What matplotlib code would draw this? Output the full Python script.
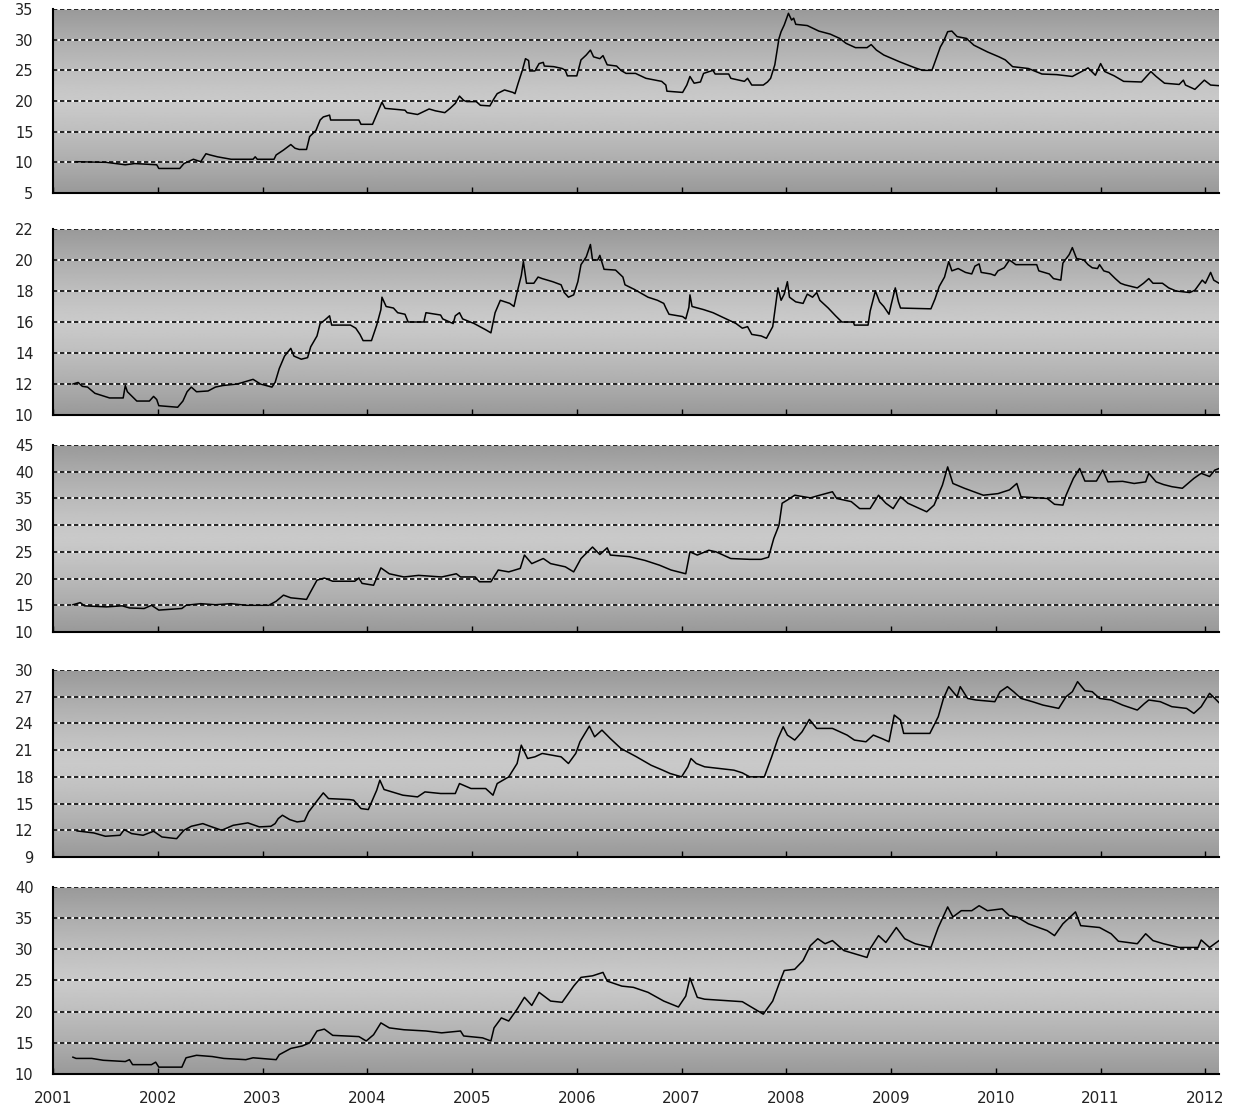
import matplotlib
matplotlib.use("Agg")
import matplotlib.pyplot as plt
import numpy as np

# series 1
S1_T = [2001.22, 2001.51, 2001.69, 2001.78, 2001.99, 2002.01, 2002.21, 2002.25, 2002.34, 2002.41,
        2002.46, 2002.50, 2002.57, 2002.70, 2002.91, 2002.93, 2002.95, 2003.11, 2003.13, 2003.20,
        2003.27, 2003.31, 2003.35, 2003.42, 2003.45, 2003.51, 2003.55, 2003.58, 2003.64, 2003.65,
        2003.92, 2003.94, 2004.05, 2004.10, 2004.14, 2004.17, 2004.36, 2004.38, 2004.48, 2004.54,
        2004.59, 2004.65, 2004.74, 2004.79, 2004.84, 2004.88, 2004.92, 2004.95, 2005.04, 2005.08,
        2005.17, 2005.21, 2005.24, 2005.31, 2005.39, 2005.41, 2005.44, 2005.48, 2005.51, 2005.54,
        2005.55, 2005.60, 2005.64, 2005.68, 2005.69, 2005.78, 2005.86, 2005.89, 2005.91, 2006.00,
        2006.04, 2006.09, 2006.13, 2006.16, 2006.22, 2006.25, 2006.29, 2006.38, 2006.42, 2006.47,
        2006.56, 2006.66, 2006.81, 2006.85, 2006.86, 2007.01, 2007.05, 2007.08, 2007.12, 2007.18,
        2007.21, 2007.30, 2007.32, 2007.45, 2007.47, 2007.60, 2007.63, 2007.67, 2007.78, 2007.82,
        2007.85, 2007.89, 2007.93, 2007.95, 2007.98, 2008.02, 2008.05, 2008.07, 2008.09, 2008.20,
        2008.31, 2008.42, 2008.51, 2008.57, 2008.66, 2008.77, 2008.81, 2008.86, 2008.93, 2009.04,
        2009.08, 2009.23, 2009.30, 2009.39, 2009.43, 2009.47, 2009.50, 2009.54, 2009.58, 2009.63,
        2009.72, 2009.79, 2009.92, 2010.03, 2010.09, 2010.16, 2010.31, 2010.44, 2010.58, 2010.73,
        2010.84, 2010.88, 2010.95, 2011.00, 2011.04, 2011.13, 2011.22, 2011.39, 2011.48, 2011.53,
        2011.61, 2011.75, 2011.79, 2011.81, 2011.90, 2011.99, 2012.05, 2012.13]
S1_V = [10.1, 10.0, 9.6, 9.8, 9.6, 9.0, 9.0, 9.8, 10.5, 10.1,
        11.4, 11.2, 10.9, 10.5, 10.5, 10.9, 10.5, 10.5, 11.2, 12.0,
        12.9, 12.3, 12.1, 12.1, 14.2, 15.2, 16.9, 17.4, 17.7, 16.9,
        16.9, 16.2, 16.2, 18.2, 19.8, 18.8, 18.5, 18.1, 17.8, 18.3,
        18.7, 18.4, 18.1, 18.8, 19.6, 20.8, 20.1, 19.9, 19.9, 19.3,
        19.2, 20.4, 21.2, 21.8, 21.4, 21.2, 22.9, 25.0, 26.9, 26.6,
        24.9, 24.9, 26.1, 26.3, 25.7, 25.6, 25.3, 25.0, 24.1, 24.1,
        26.7, 27.5, 28.3, 27.2, 26.9, 27.4, 25.9, 25.7, 25.0, 24.5,
        24.5, 23.7, 23.2, 22.6, 21.6, 21.4, 22.6, 24.0, 22.9, 23.1,
        24.5, 25.0, 24.4, 24.4, 23.7, 23.2, 23.7, 22.6, 22.6, 23.1,
        23.7, 25.9, 30.2, 31.3, 32.4, 34.3, 33.2, 33.5, 32.5, 32.3,
        31.4, 30.9, 30.2, 29.4, 28.7, 28.7, 29.2, 28.3, 27.5, 26.7,
        26.4, 25.4, 25.0, 25.0, 26.9, 28.8, 29.7, 31.3, 31.4, 30.5,
        30.2, 29.1, 28.0, 27.2, 26.7, 25.6, 25.3, 24.4, 24.3, 24.0,
        25.0, 25.4, 24.2, 26.1, 24.8, 24.1, 23.2, 23.1, 24.8, 24.0,
        22.9, 22.7, 23.4, 22.6, 21.9, 23.4, 22.6, 22.5]

# series 2
S2_T = [2001.19, 2001.24, 2001.28, 2001.33, 2001.40, 2001.54, 2001.67, 2001.69, 2001.71, 2001.74,
        2001.80, 2001.92, 2001.96, 2001.99, 2002.01, 2002.19, 2002.24, 2002.28, 2002.32, 2002.37,
        2002.48, 2002.55, 2002.62, 2002.76, 2002.91, 2002.98, 2003.09, 2003.12, 2003.16, 2003.21,
        2003.27, 2003.30, 2003.37, 2003.43, 2003.46, 2003.52, 2003.55, 2003.59, 2003.64, 2003.66,
        2003.84, 2003.89, 2003.93, 2003.96, 2004.04, 2004.09, 2004.13, 2004.14, 2004.18, 2004.25,
        2004.29, 2004.36, 2004.39, 2004.54, 2004.56, 2004.70, 2004.72, 2004.82, 2004.84, 2004.88,
        2004.91, 2005.02, 2005.13, 2005.18, 2005.22, 2005.27, 2005.36, 2005.40, 2005.43, 2005.47,
        2005.49, 2005.52, 2005.59, 2005.63, 2005.67, 2005.77, 2005.85, 2005.88, 2005.92, 2005.97,
        2006.01, 2006.04, 2006.09, 2006.13, 2006.15, 2006.20, 2006.22, 2006.26, 2006.37, 2006.44,
        2006.46, 2006.55, 2006.68, 2006.77, 2006.83, 2006.85, 2006.88, 2007.01, 2007.04, 2007.07,
        2007.08, 2007.10, 2007.21, 2007.30, 2007.41, 2007.52, 2007.58, 2007.63, 2007.67, 2007.76,
        2007.81, 2007.83, 2007.87, 2007.89, 2007.92, 2007.95, 2007.98, 2008.01, 2008.03, 2008.09,
        2008.16, 2008.20, 2008.25, 2008.29, 2008.32, 2008.40, 2008.47, 2008.53, 2008.64, 2008.65,
        2008.78, 2008.80, 2008.85, 2008.89, 2008.93, 2008.98, 2009.00, 2009.04, 2009.07, 2009.09,
        2009.38, 2009.42, 2009.46, 2009.51, 2009.55, 2009.58, 2009.64, 2009.71, 2009.77, 2009.80,
        2009.84, 2009.86, 2009.95, 2009.99, 2010.02, 2010.08, 2010.13, 2010.19, 2010.39, 2010.41,
        2010.51, 2010.55, 2010.62, 2010.64, 2010.70, 2010.73, 2010.77, 2010.84, 2010.88, 2010.92,
        2010.97, 2010.99, 2011.03, 2011.08, 2011.14, 2011.19, 2011.23, 2011.35, 2011.41, 2011.46,
        2011.50, 2011.59, 2011.65, 2011.72, 2011.85, 2011.90, 2011.97, 2012.00, 2012.05, 2012.08,
        2012.13]
S2_V = [12.0, 12.1, 11.85, 11.8, 11.4, 11.1, 11.1, 11.9, 11.5, 11.3,
        10.9, 10.9, 11.2, 11.0, 10.6, 10.5, 10.9, 11.5, 11.8, 11.5,
        11.55, 11.8, 11.9, 12.0, 12.3, 12.0, 11.8, 12.1, 13.0, 13.8,
        14.3, 13.8, 13.6, 13.7, 14.4, 15.1, 15.9, 16.1, 16.4, 15.8,
        15.8, 15.6, 15.2, 14.8, 14.8, 15.8, 16.8, 17.6, 17.0, 16.9,
        16.6, 16.5, 16.0, 16.0, 16.6, 16.45, 16.2, 15.9, 16.4, 16.6,
        16.2, 15.9, 15.5, 15.3, 16.6, 17.4, 17.2, 17.0, 17.9, 19.0,
        19.9, 18.5, 18.5, 18.9, 18.8, 18.6, 18.4, 17.9, 17.6, 17.75,
        18.6, 19.7, 20.2, 21.0, 20.0, 20.0, 20.3, 19.4, 19.35, 18.9,
        18.4, 18.1, 17.6, 17.4, 17.2, 16.9, 16.5, 16.35, 16.2, 16.95,
        17.75, 17.0, 16.8, 16.6, 16.25, 15.9, 15.6, 15.7, 15.2, 15.1,
        14.95, 15.2, 15.7, 16.7, 18.2, 17.4, 17.8, 18.6, 17.6, 17.3,
        17.2, 17.8, 17.6, 17.9, 17.4, 16.9, 16.4, 16.0, 16.0, 15.8,
        15.8, 16.7, 18.0, 17.3, 17.0, 16.5, 17.1, 18.2, 17.3, 16.9,
        16.85, 17.5, 18.3, 18.9, 19.9, 19.3, 19.45, 19.2, 19.1, 19.6,
        19.75, 19.2, 19.1, 19.0, 19.3, 19.5, 20.0, 19.7, 19.7, 19.3,
        19.1, 18.8, 18.7, 19.8, 20.35, 20.8, 20.1, 20.0, 19.7, 19.5,
        19.45, 19.7, 19.3, 19.2, 18.8, 18.5, 18.4, 18.2, 18.5, 18.8,
        18.5, 18.5, 18.2, 18.0, 17.9, 18.05, 18.7, 18.5, 19.2, 18.7,
        18.5]

# series 3
S3_T = [2001.19, 2001.26, 2001.30, 2001.51, 2001.66, 2001.73, 2001.87, 2001.94, 2002.01, 2002.23,
        2002.27, 2002.41, 2002.55, 2002.70, 2002.84, 2003.06, 2003.13, 2003.20, 2003.27, 2003.42,
        2003.45, 2003.52, 2003.59, 2003.67, 2003.88, 2003.92, 2003.95, 2004.06, 2004.13, 2004.21,
        2004.35, 2004.49, 2004.71, 2004.85, 2004.89, 2005.03, 2005.07, 2005.18, 2005.25, 2005.35,
        2005.46, 2005.50, 2005.57, 2005.68, 2005.75, 2005.89, 2005.97, 2006.04, 2006.15, 2006.22,
        2006.29, 2006.32, 2006.50, 2006.65, 2006.79, 2006.90, 2007.04, 2007.08, 2007.15, 2007.26,
        2007.33, 2007.47, 2007.65, 2007.76, 2007.83, 2007.88, 2007.93, 2007.96, 2008.01, 2008.08,
        2008.23, 2008.30, 2008.44, 2008.48, 2008.62, 2008.70, 2008.80, 2008.88, 2008.95, 2009.02,
        2009.09, 2009.16, 2009.34, 2009.41, 2009.49, 2009.54, 2009.59, 2009.70, 2009.88, 2010.02,
        2010.13, 2010.20, 2010.24, 2010.49, 2010.56, 2010.64, 2010.67, 2010.74, 2010.80, 2010.85,
        2010.96, 2011.02, 2011.07, 2011.21, 2011.32, 2011.43, 2011.46, 2011.53, 2011.60, 2011.68,
        2011.78, 2011.89, 2011.96, 2012.04, 2012.09, 2012.13]
S3_V = [15.1, 15.5, 14.9, 14.7, 14.9, 14.5, 14.4, 15.0, 14.1, 14.4,
        15.0, 15.3, 15.1, 15.3, 15.0, 15.0, 15.75, 16.9, 16.4, 16.1,
        17.2, 19.7, 20.1, 19.5, 19.5, 20.1, 19.1, 18.75, 22.0, 20.9,
        20.3, 20.6, 20.3, 20.9, 20.3, 20.3, 19.4, 19.4, 21.6, 21.25,
        21.9, 24.4, 22.8, 23.75, 22.8, 22.2, 21.25, 23.75, 25.9, 24.5,
        25.75, 24.4, 24.1, 23.4, 22.5, 21.6, 20.9, 25.0, 24.4, 25.3,
        25.0, 23.75, 23.6, 23.6, 24.0, 27.5, 30.0, 34.1, 34.7, 35.6,
        35.1, 35.5, 36.25, 35.0, 34.4, 33.1, 33.1, 35.6, 34.1, 33.1,
        35.3, 34.1, 32.5, 33.75, 37.5, 40.9, 37.8, 36.9, 35.6, 35.9,
        36.6, 37.8, 35.3, 35.0, 33.9, 33.75, 35.6, 38.75, 40.6, 38.25,
        38.25, 40.3, 38.1, 38.2, 37.8, 38.1, 39.7, 38.1, 37.6, 37.2,
        36.9, 38.75, 39.7, 39.1, 40.3, 40.6]

# series 4
S4_T = [2001.23, 2001.39, 2001.50, 2001.64, 2001.68, 2001.75, 2001.86, 2001.96, 2002.04, 2002.18,
        2002.25, 2002.32, 2002.43, 2002.50, 2002.61, 2002.72, 2002.86, 2002.97, 2003.08, 2003.12,
        2003.15, 2003.19, 2003.26, 2003.33, 2003.40, 2003.44, 2003.53, 2003.58, 2003.63, 2003.83,
        2003.87, 2003.94, 2004.01, 2004.09, 2004.12, 2004.16, 2004.34, 2004.48, 2004.55, 2004.70,
        2004.84, 2004.88, 2004.99, 2005.13, 2005.20, 2005.24, 2005.35, 2005.43, 2005.47, 2005.53,
        2005.60, 2005.67, 2005.85, 2005.92, 2005.99, 2006.03, 2006.12, 2006.17, 2006.24, 2006.32,
        2006.42, 2006.57, 2006.71, 2006.82, 2006.89, 2007.00, 2007.06, 2007.09, 2007.14, 2007.22,
        2007.50, 2007.58, 2007.65, 2007.79, 2007.86, 2007.92, 2007.97, 2008.01, 2008.08, 2008.15,
        2008.22, 2008.29, 2008.44, 2008.58, 2008.65, 2008.76, 2008.83, 2008.91, 2008.98, 2009.03,
        2009.09, 2009.12, 2009.37, 2009.45, 2009.50, 2009.55, 2009.63, 2009.66, 2009.73, 2009.81,
        2009.99, 2010.04, 2010.11, 2010.17, 2010.24, 2010.35, 2010.45, 2010.60, 2010.67, 2010.73,
        2010.78, 2010.85, 2010.92, 2010.99, 2011.10, 2011.21, 2011.35, 2011.42, 2011.46, 2011.57,
        2011.68, 2011.82, 2011.89, 2011.96, 2012.04, 2012.09, 2012.13]
S4_V = [11.93, 11.7, 11.33, 11.44, 12.08, 11.63, 11.44, 11.89, 11.25, 11.06,
        12.0, 12.45, 12.75, 12.45, 12.0, 12.56, 12.83, 12.38, 12.45, 12.75,
        13.31, 13.69, 13.2, 12.94, 13.05, 14.06, 15.45, 16.2, 15.56, 15.45,
        15.38, 14.44, 14.33, 16.5, 17.63, 16.58, 15.94, 15.75, 16.31, 16.13,
        16.13, 17.25, 16.69, 16.69, 15.94, 17.25, 18.0, 19.5, 21.56, 20.06,
        20.25, 20.63, 20.25, 19.5, 20.63, 21.94, 23.7, 22.5, 23.25, 22.3,
        21.2, 20.25, 19.3, 18.75, 18.38, 18.0, 19.13, 20.06, 19.5, 19.13,
        18.75, 18.45, 18.0, 18.0, 20.25, 22.31, 23.63, 22.69, 22.13, 23.06,
        24.45, 23.44, 23.44, 22.69, 22.13, 21.94, 22.69, 22.31, 21.94, 24.94,
        24.38, 22.88, 22.88, 24.75, 26.81, 28.13, 27.0, 28.13, 26.81, 26.63,
        26.44, 27.56, 28.13, 27.56, 26.81, 26.44, 26.06, 25.69, 27.0, 27.56,
        28.69, 27.68, 27.56, 26.81, 26.63, 26.06, 25.5, 26.25, 26.63, 26.44,
        25.88, 25.69, 25.13, 25.88, 27.38, 26.81, 26.33]

# series 5
S5_T = [2001.19, 2001.22, 2001.37, 2001.48, 2001.69, 2001.73, 2001.76, 2001.94, 2001.98, 2002.01,
        2002.23, 2002.27, 2002.37, 2002.52, 2002.63, 2002.84, 2002.91, 2003.13, 2003.16, 2003.27,
        2003.38, 2003.45, 2003.52, 2003.59, 2003.67, 2003.92, 2003.99, 2004.06, 2004.13, 2004.21,
        2004.35, 2004.56, 2004.71, 2004.89, 2004.92, 2005.10, 2005.18, 2005.21, 2005.28, 2005.35,
        2005.43, 2005.50, 2005.57, 2005.64, 2005.75, 2005.86, 2005.97, 2006.04, 2006.15, 2006.25,
        2006.29, 2006.43, 2006.54, 2006.68, 2006.83, 2006.97, 2007.04, 2007.08, 2007.15, 2007.22,
        2007.58, 2007.69, 2007.78, 2007.87, 2007.94, 2007.98, 2008.08, 2008.16, 2008.23, 2008.30,
        2008.37, 2008.44, 2008.55, 2008.77, 2008.80, 2008.88, 2008.95, 2009.05, 2009.13, 2009.23,
        2009.38, 2009.45, 2009.54, 2009.59, 2009.67, 2009.77, 2009.84, 2009.92, 2010.06, 2010.13,
        2010.20, 2010.31, 2010.49, 2010.56, 2010.64, 2010.76, 2010.81, 2010.99, 2011.10, 2011.17,
        2011.35, 2011.43, 2011.50, 2011.60, 2011.75, 2011.93, 2011.96, 2012.04, 2012.13]
S5_V = [12.7, 12.5, 12.5, 12.2, 12.0, 12.3, 11.5, 11.5, 11.9, 11.1,
        11.1, 12.6, 13.0, 12.8, 12.5, 12.3, 12.6, 12.3, 13.1, 14.1,
        14.5, 15.0, 16.9, 17.2, 16.2, 16.0, 15.3, 16.3, 18.2, 17.4,
        17.1, 16.9, 16.6, 16.9, 16.1, 15.8, 15.3, 17.4, 19.0, 18.5,
        20.4, 22.3, 21.0, 23.1, 21.7, 21.5, 24.1, 25.5, 25.75, 26.3,
        24.9, 24.1, 23.9, 23.1, 21.7, 20.75, 22.5, 25.4, 22.3, 22.0,
        21.6, 20.5, 19.6, 21.7, 24.9, 26.6, 26.8, 28.2, 30.6, 31.7,
        30.9, 31.4, 29.8, 28.7, 30.1, 32.2, 31.1, 33.5, 31.7, 30.9,
        30.3, 33.5, 36.8, 35.2, 36.2, 36.2, 37.0, 36.2, 36.5, 35.4,
        35.2, 34.1, 33.0, 32.2, 34.1, 36.0, 33.8, 33.5, 32.5, 31.3,
        30.9, 32.5, 31.4, 30.9, 30.3, 30.3, 31.5, 30.3, 31.4]

YEARS = list(range(2001, 2013))

PANELS = [
    (S1_T, S1_V, (5, 35), [5, 10, 15, 20, 25, 30, 35]),
    (S2_T, S2_V, (10, 22), [10, 12, 14, 16, 18, 20, 22]),
    (S3_T, S3_V, (10, 45), [10, 15, 20, 25, 30, 35, 40, 45]),
    (S4_T, S4_V, (9, 30), [9, 12, 15, 18, 21, 24, 27, 30]),
    (S5_T, S5_V, (10, 40), [10, 15, 20, 25, 30, 35, 40]),
]

# axes boxes in pixels (top, bottom) on a 1236x1115 canvas
W, H = 1236, 1115
BOXES = [(9, 193), (229, 415), (445, 632), (670, 857), (887, 1074)]
X0, X1 = 53, 1219
XLIM = (2001.0, 2012.13)

fig = plt.figure(figsize=(W / 100, H / 100), dpi=100)

# vertical gradient: dark at edges, light in the middle
g = np.linspace(0, 1, 256)
shade = 0.60 + 0.19 * (1 - np.abs(2 * g - 1) ** 1.3)
grad = np.repeat(shade[:, None], 2, axis=1)

for i, ((t, v, ylim, yt), (top, bot)) in enumerate(zip(PANELS, BOXES)):
    ax = fig.add_axes([X0 / W, 1 - bot / H, (X1 - X0) / W, (bot - top) / H])
    ax.set_xlim(*XLIM)
    ax.set_ylim(*ylim)
    ax.imshow(grad, cmap="gray", vmin=0, vmax=1, aspect="auto",
              extent=[XLIM[0], XLIM[1], ylim[0], ylim[1]], zorder=0,
              interpolation="bilinear")
    for y in yt[1:]:
        ax.axhline(y, color="white", lw=1.2, zorder=1)
        ax.axhline(y, color="black", lw=1.2, ls=(0, (2.6, 1.6)), zorder=2)
    ax.plot(t, v, color="black", lw=1.1, zorder=3)

    ax.set_yticks(yt)
    ax.set_xticks(YEARS)
    ax.tick_params(axis="y", length=0, pad=14, labelsize=10.5, labelcolor="#222222")
    ax.tick_params(axis="x", direction="in", length=4, width=1.0, color="black",
                   pad=12, labelsize=11, labelcolor="#222222")
    if i < len(PANELS) - 1:
        ax.set_xticklabels([])
    for s in ["top", "right"]:
        ax.spines[s].set_visible(False)
    for s in ["left", "bottom"]:
        ax.spines[s].set_linewidth(1.5)
        ax.spines[s].set_color("black")

fig.savefig("out.png", dpi=100)
